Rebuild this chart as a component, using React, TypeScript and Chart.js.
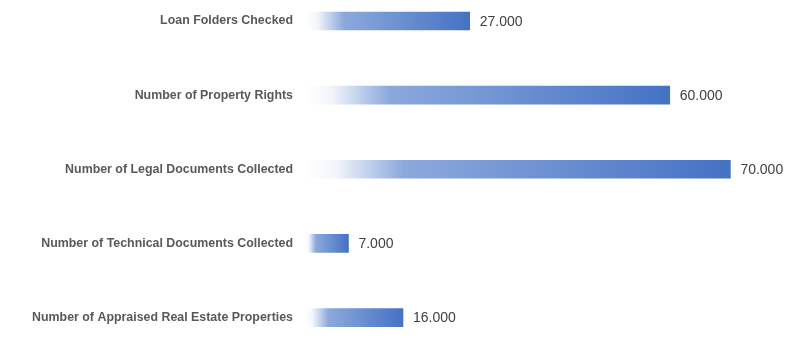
import React, { useEffect, useRef } from "react";
import { Chart, registerables } from "chart.js";

Chart.register(...registerables);

const categories = [
  "Loan Folders Checked",
  "Number of Property Rights",
  "Number of Legal Documents Collected",
  "Number of Technical Documents Collected",
  "Number of Appraised Real Estate Properties",
];
const values = [27, 60, 70, 7, 16];
const valueLabels = ["27.000", "60.000", "70.000", "7.000", "16.000"];

const valueLabelPlugin = {
  id: "valueLabels",
  afterDatasetsDraw(chart: any) {
    const { ctx } = chart;
    const meta = chart.getDatasetMeta(0);
    ctx.save();
    ctx.font = "14px 'Liberation Sans', Arial, sans-serif";
    ctx.fillStyle = "#404040";
    ctx.textAlign = "left";
    ctx.textBaseline = "middle";
    meta.data.forEach((bar: any, i: number) => {
      ctx.fillText(valueLabels[i], bar.x + 10, bar.y + 1);
    });
    ctx.restore();
  },
};

export default function App() {
  const ref = useRef<HTMLCanvasElement>(null);
  useEffect(() => {
    const canvas = ref.current!;
    const chart = new Chart(canvas, {
      type: "bar",
      data: {
        labels: categories,
        datasets: [
          {
            data: values,
            clip: false as any,
            barThickness: 18,
            backgroundColor: (context: any) => {
              const c = context.chart;
              const xs = c.scales?.x;
              if (!xs || !c.chartArea) return "#4472C4";
              const v = context.raw as number;
              const x0 = xs.getPixelForValue(0);
              const x1 = xs.getPixelForValue(v);
              const g = c.ctx.createLinearGradient(x0, 0, x1, 0);
              g.addColorStop(0, "#FFFFFF");
              g.addColorStop(0.07, "#F2F5FB");
              g.addColorStop(0.23, "#8CA9DC");
              g.addColorStop(1, "#4472C4");
              return g;
            },
          },
        ],
      },
      options: {
        indexAxis: "y",
        animation: false,
        responsive: true,
        maintainAspectRatio: false,
        layout: { padding: { top: 21, bottom: 19, right: 12, left: 0 } },
        plugins: {
          legend: { display: false },
          tooltip: { enabled: false },
        },
        scales: {
          x: { display: false, min: 0, max: 80 },
          y: {
            offset: false,
            grid: { display: false, drawTicks: false },
            border: { display: false },
            ticks: {
              padding: 13,
              color: "#595959",
              font: { family: "'Liberation Sans', Arial, sans-serif", size: 12.4, weight: "bold" },
            },
            afterFit: (scale: any) => {
              scale.width = 306;
            },
          },
        },
      },
      plugins: [valueLabelPlugin],
    });
    return () => chart.destroy();
  }, []);
  return (
    <div style={{ position: "fixed", left: 0, top: 0, width: 803, height: 338, background: "#fff" }}>
      <canvas ref={ref} />
    </div>
  );
}
